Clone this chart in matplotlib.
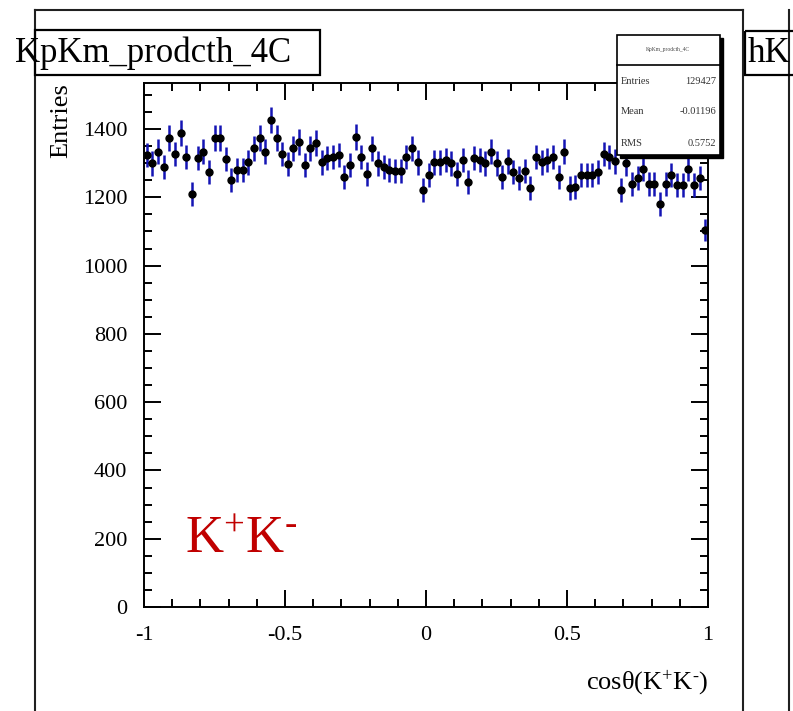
import numpy as np
import matplotlib
matplotlib.use('Agg')
import matplotlib.pyplot as plt
from matplotlib.patches import Rectangle
from matplotlib.ticker import MultipleLocator

plt.rcParams['font.family'] = ['Liberation Serif', 'DejaVu Serif']
plt.rcParams['mathtext.fontset'] = 'custom'
plt.rcParams['mathtext.rm'] = 'Liberation Serif'
plt.rcParams['mathtext.it'] = 'Liberation Serif:italic'

# histogram contents, 100 bins on [-1, 1]
counts = [1324, 1300, 1333, 1289, 1374, 1327, 1388, 1318, 1210, 1315,
          1333, 1274, 1374, 1374, 1312, 1251, 1280, 1280, 1303, 1344,
          1374, 1333, 1426, 1374, 1327, 1298, 1344, 1362, 1295, 1344,
          1359, 1303, 1315, 1318, 1324, 1259, 1295, 1377, 1318, 1268,
          1344, 1300, 1289, 1280, 1277, 1277, 1318, 1344, 1303, 1221,
          1265, 1303, 1303, 1309, 1300, 1268, 1309, 1245, 1315, 1309,
          1300, 1333, 1300, 1259, 1306, 1274, 1256, 1277, 1227, 1318,
          1303, 1309, 1318, 1259, 1333, 1227, 1230, 1265, 1265, 1265,
          1274, 1327, 1318, 1306, 1221, 1300, 1239, 1256, 1283, 1239,
          1239, 1180, 1239, 1265, 1236, 1236, 1283, 1236, 1256, 1104]
x_lo, x_hi = -1.0, 1.0
y_ticks = [0, 200, 400, 600, 800, 1000, 1200, 1400]
x_ticks = [-1, -0.5, 0, 0.5, 1]
x_tick_labels = ['-1', '-0.5', '0', '0.5', '1']

hist_name = 'KpKm_prodcth_4C'
stats = [('Entries', '129427'), ('Mean', '-0.01196'), ('RMS', '0.5752')]

W, H = 793, 711
fig = plt.figure(figsize=(W / 100, H / 100), dpi=100)

# pixel overlay for pad frames
bg = fig.add_axes([0, 0, 1, 1], zorder=0)
bg.set_xlim(0, W)
bg.set_ylim(H, 0)
bg.axis('off')
fc = '#202020'
bg.plot([35, 35], [10, H], color=fc, lw=1.5)
bg.plot([35, 743], [10, 10], color=fc, lw=1.5)
bg.plot([743, 743], [10, H], color=fc, lw=1.5)
bg.plot([789, 789], [10, H], color=fc, lw=1.5)

# main histogram axes
l, r, t, b = 144, 708, 83, 607
ax = fig.add_axes([l / W, (H - b) / H, (r - l) / W, (b - t) / H], zorder=2)
n = len(counts)
edges = np.linspace(x_lo, x_hi, n + 1)
centers = 0.5 * (edges[1:] + edges[:-1])
y = np.array(counts, dtype=float)
ax.errorbar(centers, y, yerr=np.sqrt(y), xerr=(edges[1] - edges[0]) / 2,
            fmt='o', ms=5, mfc='black', mec='black', ecolor='#1414b4',
            elinewidth=1.8, capsize=0)
ax.set_xlim(x_lo, x_hi)
ax.set_ylim(0, 1535)
ax.set_xticks(x_ticks)
ax.set_xticklabels(x_tick_labels)
ax.set_yticks(y_ticks)
ax.xaxis.set_minor_locator(MultipleLocator(0.1))
ax.yaxis.set_minor_locator(MultipleLocator(50))
ax.tick_params(which='both', direction='in', top=True, right=True,
               width=1.4, labelsize=16, colors='black')
ax.tick_params(which='major', length=12)
ax.tick_params(which='minor', length=6)
ax.tick_params(axis='x', pad=14)
ax.tick_params(axis='y', pad=12)
for s in ax.spines.values():
    s.set_linewidth(1.4)
ax.set_xlabel('cos\u03b8(K$^{+}$K$^{\\text{-}}$)', fontsize=19, loc='right',
              labelpad=16)
ax.set_ylabel('Entries', fontsize=19, loc='top', labelpad=8)
ax.text(0.073, 0.103, 'K$^{+}$K$^{\\text{-}}$', transform=ax.transAxes,
        fontsize=38, color='#c00000')

# overlay for title boxes and stats box
top = fig.add_axes([0, 0, 1, 1], zorder=10)
top.set_xlim(0, W)
top.set_ylim(H, 0)
top.axis('off')
top.patch.set_alpha(0)
top.add_patch(Rectangle((35, 30), 285, 45, fill=False, ec='black', lw=1.6))
top.text(15, 53, hist_name, fontsize=25, va='center', ha='left')
top.add_patch(Rectangle((745, 31), 60, 44, fill=False, ec='black', lw=1.6,
                        clip_on=False))
top.text(748, 53, 'hK', fontsize=25, va='center', ha='left')

# stats box with shadow
top.add_patch(Rectangle((620, 38), 103, 120, fc='black', ec='black'))
top.add_patch(Rectangle((617, 35), 103, 120, fc='white', ec='black', lw=1.2))
top.plot([617, 720], [65, 65], color='black', lw=1.2)
top.text(668, 50, hist_name, fontsize=4, ha='center', va='center',
         color='#444444')
for i, (k, v) in enumerate(stats):
    yy = 81 + i * 31
    top.text(621, yy, k, fontsize=7.5, ha='left', va='center', color='#333333')
    top.text(716, yy, v, fontsize=7.5, ha='right', va='center', color='#333333')

fig.savefig('out.png', dpi=100)
